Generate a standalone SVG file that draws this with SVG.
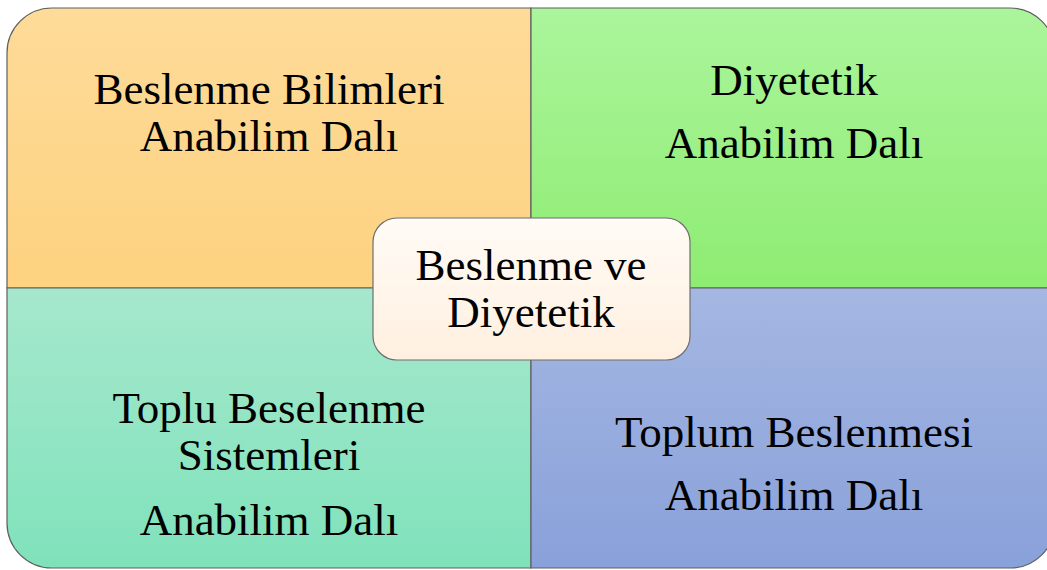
<svg xmlns="http://www.w3.org/2000/svg" width="1047" height="570" viewBox="0 0 1047 570">
<defs>
<linearGradient id="gTL" x1="0" y1="0" x2="0" y2="1"><stop offset="0" stop-color="#fedb99"/><stop offset="1" stop-color="#fdd280"/></linearGradient>
<linearGradient id="gTR" x1="0" y1="0" x2="0" y2="1"><stop offset="0" stop-color="#abf59c"/><stop offset="1" stop-color="#8eec72"/></linearGradient>
<linearGradient id="gBL" x1="0" y1="0" x2="0" y2="1"><stop offset="0" stop-color="#a6e8cd"/><stop offset="1" stop-color="#7fe2bb"/></linearGradient>
<linearGradient id="gBR" x1="0" y1="0" x2="0" y2="1"><stop offset="0" stop-color="#a5b7e2"/><stop offset="1" stop-color="#89a1da"/></linearGradient>
<linearGradient id="gC" x1="0" y1="0" x2="0" y2="1"><stop offset="0" stop-color="#fffbf6"/><stop offset="1" stop-color="#fff0e0"/></linearGradient>
</defs>
<style>
.q{stroke:#5f5f5f;stroke-width:1.2}
.t{font-family:"Liberation Serif","Times New Roman",serif;font-size:45px;fill:#000;text-anchor:middle}
</style>
<g id="q-tl">
<path class="q" fill="url(#gTL)" d="M7,288 V53 A45,45 0 0 1 52,8 H531 V288 Z"/>
<text class="t" x="269" y="104">Beslenme Bilimleri</text>
<text class="t" x="269" y="151">Anabilim Dalı</text>
</g>
<g id="q-tr">
<path class="q" fill="url(#gTR)" d="M531,8 H1010 A45,45 0 0 1 1055,53 V288 H531 Z"/>
<text class="t" x="794" y="95">Diyetetik</text>
<text class="t" x="794" y="158">Anabilim Dalı</text>
</g>
<g id="q-bl">
<path class="q" fill="url(#gBL)" d="M7,288 H531 V568 H52 A45,45 0 0 1 7,523 Z"/>
<text class="t" x="269" y="423">Toplu Beselenme</text>
<text class="t" x="269" y="470">Sistemleri</text>
<text class="t" x="269" y="535">Anabilim Dalı</text>
</g>
<g id="q-br">
<path class="q" fill="url(#gBR)" d="M531,288 H1055 V523 A45,45 0 0 1 1010,568 H531 Z"/>
<text class="t" x="794" y="447">Toplum Beslenmesi</text>
<text class="t" x="794" y="510">Anabilim Dalı</text>
</g>
<g id="connectors"></g>
<g id="center">
<rect x="373" y="218" width="317" height="142" rx="24" ry="24" fill="url(#gC)" stroke="#6e6e6e" stroke-width="1.2"/>
<text class="t" x="531" y="280">Beslenme ve</text>
<text class="t" x="531" y="327">Diyetetik</text>
</g>
</svg>
